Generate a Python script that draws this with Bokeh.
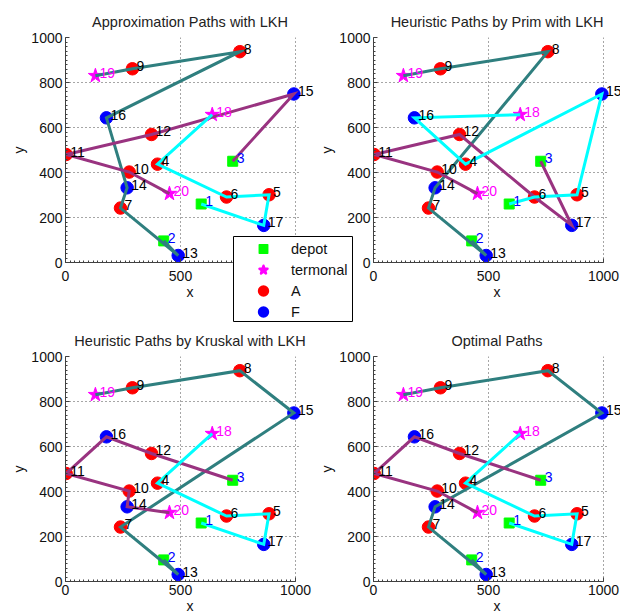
from bokeh.plotting import figure
from bokeh.layouts import column
from bokeh.models import (ColumnDataSource, LabelSet, FixedTicker, Legend,
                          LegendItem, Range1d, Grid, GridBox)
from bokeh.core.properties import value
from bokeh.embed import file_html
from bokeh.resources import INLINE

# ---------------- data ----------------
node_id = list(range(1, 21))
node_x = [590, 427, 727, 400, 885, 700, 239, 758, 291, 277,
          3, 374, 490, 268, 993, 178, 862, 638, 130, 452]
node_y = [260, 96, 450, 437, 301, 291, 242, 937, 861, 402,
          480, 569, 31, 332, 749, 643, 165, 657, 830, 306]
node_type = (["depot"] * 3 + ["A"] * 9 + ["F"] * 5 + ["termonal"] * 3)

titles = ["Approximation Paths with LKH",
          "Heuristic Paths by Prim with LKH",
          "Heuristic Paths by Kruskal with LKH",
          "Optimal Paths"]

# paths per subplot: (teal, purple, cyan) as node ids
paths_approx = [[2, 13, 7, 14, 16, 8, 9, 19], [3, 15, 12, 11, 10, 20], [1, 17, 5, 6, 4, 18]]
paths_prim = [[2, 13, 7, 14, 8, 9, 19], [3, 17, 6, 12, 11, 10, 20], [1, 6, 5, 15, 4, 16, 18]]
paths_kruskal = [[2, 13, 7, 15, 8, 9, 19], [3, 12, 16, 11, 10, 14, 20], [1, 17, 5, 6, 4, 18]]
paths_optimal = [[2, 13, 7, 14, 15, 8, 9, 19], [3, 12, 16, 11, 10, 20], [1, 17, 5, 6, 4, 18]]
all_paths = [paths_approx, paths_prim, paths_kruskal, paths_optimal]

legend_labels = ["depot", "termonal", "A", "F"]
x_ticks = [0, 500, 1000]
y_ticks = [0, 200, 400, 600, 800, 1000]

# ---------------- styles ----------------
FONT = "Liberation Sans"
PX_PER_1000 = 230
path_colors = ["#2f7f7f", "#993380", "#00ffff"]
type_style = {
    "depot": dict(marker="square", color="#00ff00", size=10, leg_lw=1.5),
    "termonal": dict(marker="star", color="#ff00ff", size=15, leg_lw=2.5),
    "A": dict(marker="circle", color="#ff0000", size=12.5, leg_lw=3),
    "F": dict(marker="circle", color="#0000ff", size=12.5, leg_lw=3),
}
label_color = {"depot": "#0000ff", "termonal": "#ff00ff", "A": "#000000", "F": "#000000"}
has_cross = "cross_bounds" in Grid.properties()


def type_source(t):
    idx = [i for i in range(len(node_id)) if node_type[i] == t]
    return ColumnDataSource(dict(x=[node_x[i] for i in idx], y=[node_y[i] for i in idx]))


def make_plot(title, paths, w, h, bl, br, bt, bb, lab_st, ax_st):
    frame_w = w - bl - br
    x_end = 1000.0 * frame_w / PX_PER_1000
    p = figure(width=w, height=h, title=title,
               x_range=Range1d(0, x_end), y_range=Range1d(0, 1000),
               output_backend="svg", toolbar_location=None,
               min_border_left=bl, min_border_right=br,
               min_border_top=bt, min_border_bottom=bb,
               x_axis_label="x", y_axis_label="y")
    p.outline_line_color = None
    p.title.align = "center"
    p.title.offset = -(frame_w - PX_PER_1000) / 2.0
    p.title.text_font = FONT
    p.title.text_font_style = "normal"
    p.title.text_font_size = "14.5px"
    p.title.text_color = "#222222"
    p.title.standoff = 15

    p.xaxis.ticker = FixedTicker(ticks=x_ticks, minor_ticks=list(range(0, 1001, 20)))
    p.yaxis.ticker = FixedTicker(ticks=y_ticks, minor_ticks=list(range(0, 1001, 20)))
    p.xaxis.bounds = (0, 1000)
    for ax in (p.xaxis, p.yaxis):
        ax.axis_line_color = "#404040"
        ax.major_tick_in = 4
        ax.major_tick_out = 0
        ax.minor_tick_in = 2
        ax.minor_tick_out = 0
        ax.major_tick_line_color = "#404040"
        ax.minor_tick_line_color = "#404040"
        ax.major_label_text_font = FONT
        ax.major_label_text_font_size = "14px"
        ax.major_label_text_color = "#111111"
        ax.axis_label_text_font = FONT
        ax.axis_label_text_font_size = "14px"
        ax.axis_label_text_font_style = "normal"
        ax.axis_label_text_color = "#111111"
    p.xaxis.major_label_standoff = lab_st
    p.xaxis.axis_label_standoff = ax_st
    p.yaxis.major_label_standoff = 3
    p.yaxis.axis_label_standoff = 1

    p.xgrid.ticker = FixedTicker(ticks=[500, 1000])
    p.ygrid.ticker = FixedTicker(ticks=[200, 400, 600, 800, 1000])
    if has_cross:
        p.ygrid.cross_bounds = (0, 1015)
    for g in (p.xgrid, p.ygrid):
        g.grid_line_color = "#222222"
        g.grid_line_dash = "1 3"
        g.grid_line_alpha = 0.8

    # markers
    for t, st in type_style.items():
        p.scatter("x", "y", source=type_source(t), marker=st["marker"], size=st["size"],
                  fill_color=st["color"], line_color=st["color"])

    # paths
    for path, col in zip(paths, path_colors):
        xs = [node_x[n - 1] for n in path]
        ys = [node_y[n - 1] for n in path]
        p.line(xs, ys, line_color=col, line_width=3, line_join="miter")

    # node labels
    lsrc = ColumnDataSource(dict(x=node_x, y=node_y,
                                 t=[str(n) for n in node_id],
                                 c=[label_color[t] for t in node_type]))
    labels = LabelSet(x="x", y="y", text="t", source=lsrc, x_offset=4, y_offset=3,
                      text_color="c", text_font=value(FONT), text_font_size="14px",
                      text_baseline="middle", text_align="left")
    p.add_layout(labels)
    return p


p1 = make_plot(titles[0], all_paths[0], 306, 312, 57, 0, 35, 52, 8, 0)
p2 = make_plot(titles[1], all_paths[1], 306, 312, 59, 0, 35, 52, 8, 0)
p3 = make_plot(titles[2], all_paths[2], 306, 302, 57, 0, 42, 35, 3, 0)
p4 = make_plot(titles[3], all_paths[3], 306, 302, 59, 0, 42, 35, 3, 0)

# ---------------- legend box ----------------
# a small figure whose range shows none of the nodes: only its legend is seen
leg = figure(width=121, height=87, output_backend="svg", toolbar_location=None,
             x_axis_location=None, y_axis_location=None,
             min_border=1, x_range=Range1d(-2, -1), y_range=Range1d(-2, -1))
leg.outline_line_color = "#000000"
leg.outline_line_width = 1
items = []
for t in legend_labels:
    st = type_style[t]
    r = leg.scatter("x", "y", source=type_source(t), marker=st["marker"],
                    fill_color=st["color"], line_color=st["color"],
                    line_width=st["leg_lw"], line_join="round")
    items.append(LegendItem(label=t, renderers=[r]))
legend = Legend(items=items, location="top_left", margin=0, padding=2,
                glyph_width=56, glyph_height=21, spacing=0, label_standoff=0,
                label_text_font=FONT, label_text_font_size="14.5px",
                label_text_color="#111111",
                border_line_alpha=0, background_fill_alpha=0)
leg.add_layout(legend)
for gr in leg.select(type=Grid):
    gr.visible = False

# grid tracks: legend box overlaps the four panels
col_px = [224, 82, 39, 267]
row_px = [233, 79, 8, 294]
children = [(p1, 0, 0, 2, 2), (p2, 0, 2, 2, 2), (p3, 2, 0, 2, 2), (p4, 2, 2, 2, 2),
            (leg, 1, 1, 2, 2)]
box = GridBox(children=children, spacing=0)
try:
    box.cols = ["%dpx" % c for c in col_px]
    box.rows = ["%dpx" % r for r in row_px]
except Exception:
    box.cols = col_px
    box.rows = row_px
box.styles = {"position": "absolute", "left": "8px", "top": "2px"}

root = column(box)

open("out.html", "w").write(file_html(root, INLINE))
